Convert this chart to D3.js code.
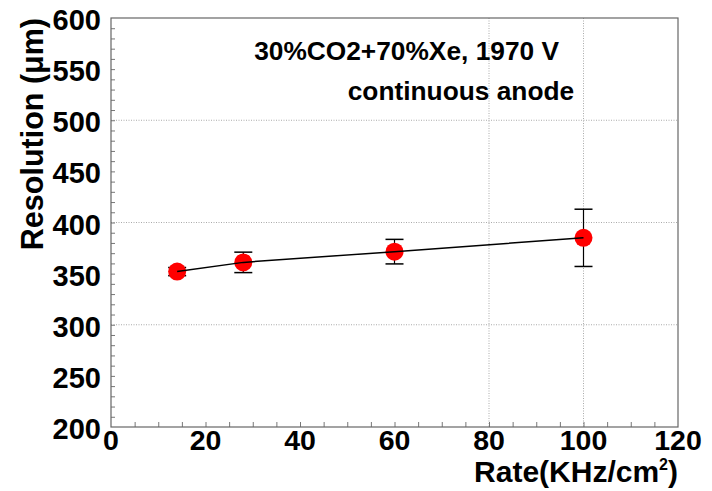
<!DOCTYPE html>
<html>
<head>
<meta charset="utf-8">
<script src="https://cdn.jsdelivr.net/npm/d3@7"></script>
<style>
  body { margin: 0; background: #fff; }
  text { font-family: "Liberation Sans", Arial, Helvetica, sans-serif; font-weight: bold; fill: #000; }
</style>
</head>
<body>
<div id="chart"></div>
<script>
// data
const rates = [14, 28, 60, 100];
const resolution = [352, 361, 371.5, 385];
const errors = [4, 10, 12, 28];
const xTickLabels = [0, 20, 40, 60, 80, 100, 120];
const yTickLabels = [200, 250, 300, 350, 400, 450, 500, 550, 600];
const gridX = [80, 100];
const gridY = [300, 400, 500];
const infoLines = ['30%CO2+70%Xe, 1970 V', 'continuous anode'];

const W = 712, H = 491;
const margin = {top: 18, right: 34, bottom: 64, left: 111};
const width = W - margin.left - margin.right;
const height = H - margin.top - margin.bottom;

const svg = d3.select('#chart').append('svg')
  .attr('width', W)
  .attr('height', H);

svg.append('rect').attr('width', W).attr('height', H).attr('fill', '#fff');

const g = svg.append('g')
  .attr('transform', 'translate(' + margin.left + ',' + margin.top + ')');

const x = d3.scaleLinear().domain([0, 120]).range([0, width]);
const y = d3.scaleLinear().domain([200, 600]).range([height, 0]);

// grid
g.selectAll('.gx').data(gridX).enter().append('line')
  .attr('x1', d => x(d)).attr('x2', d => x(d))
  .attr('y1', 0).attr('y2', height)
  .attr('stroke', '#aaa').attr('stroke-width', 1)
  .attr('stroke-dasharray', '1,1.5');
g.selectAll('.gy').data(gridY).enter().append('line')
  .attr('y1', d => y(d)).attr('y2', d => y(d))
  .attr('x1', 0).attr('x2', width)
  .attr('stroke', '#aaa').attr('stroke-width', 1)
  .attr('stroke-dasharray', '1,1.5');

// ticks pointing inside the frame
g.append('g')
  .attr('transform', 'translate(0,' + height + ')')
  .call(d3.axisTop(x).tickValues(d3.range(5, 120, 5)).tickSize(5).tickFormat(''))
  .call(a => a.select('.domain').remove())
  .selectAll('line').attr('stroke', '#777');
g.append('g')
  .call(d3.axisRight(y).tickValues(d3.range(210, 600, 10)).tickSize(4).tickFormat(''))
  .call(a => a.select('.domain').remove())
  .selectAll('line').attr('stroke', '#777');

// frame
g.append('rect')
  .attr('width', width).attr('height', height)
  .attr('fill', 'none').attr('stroke', '#666').attr('stroke-width', 1.2);

// tick labels
g.selectAll('.xl').data(xTickLabels).enter().append('text')
  .attr('x', d => x(d))
  .attr('y', height + 23)
  .attr('text-anchor', 'middle')
  .attr('font-size', 28.5)
  .text(d => d);
g.selectAll('.yl').data(yTickLabels).enter().append('text')
  .attr('x', -10)
  .attr('y', d => y(d) + 12)
  .attr('text-anchor', 'end')
  .attr('font-size', 29)
  .text(d => d);

// axis titles
const xt = g.append('text')
  .attr('x', width)
  .attr('y', height + 55)
  .attr('text-anchor', 'end')
  .attr('font-size', 30);
xt.append('tspan').text('Rate(KHz/cm');
xt.append('tspan').attr('font-size', 16).attr('dy', -12).text('2');
xt.append('tspan').attr('dy', 12).text(')');

g.append('text')
  .attr('transform', 'translate(' + (-68) + ',0) rotate(-90)')
  .attr('text-anchor', 'end')
  .attr('font-size', 30.5)
  .text('Resolution (\u03bcm)');

// annotation
g.selectAll('.info').data(infoLines).enter().append('text')
  .attr('x', (d, i) => i === 0 ? x(30.3) : x(50.1))
  .attr('y', (d, i) => i === 0 ? 42 : 82)
  .attr('font-size', 26.3)
  .text(d => d);

const pts = rates.map((r, i) => ({x: r, y: resolution[i], e: errors[i]}));

// error bars
const eb = g.selectAll('.err').data(pts).enter().append('g');
eb.append('line')
  .attr('x1', d => x(d.x)).attr('x2', d => x(d.x))
  .attr('y1', d => y(d.y - d.e)).attr('y2', d => y(d.y + d.e))
  .attr('stroke', '#000').attr('stroke-width', 1.2);
eb.selectAll('.cap').data(d => [d.y - d.e, d.y + d.e].map(v => ({x: d.x, v: v})))
  .enter().append('line')
  .attr('x1', d => x(d.x) - 9).attr('x2', d => x(d.x) + 9)
  .attr('y1', d => y(d.v)).attr('y2', d => y(d.v))
  .attr('stroke', '#000').attr('stroke-width', 1.5);

// markers
g.selectAll('.pt').data(pts).enter().append('circle')
  .attr('cx', d => x(d.x))
  .attr('cy', d => y(d.y))
  .attr('r', 9)
  .attr('fill', '#f00');

// connecting line, drawn over the markers as in the original
g.append('path')
  .datum(pts)
  .attr('fill', 'none')
  .attr('stroke', '#000')
  .attr('stroke-width', 1.5)
  .attr('d', d3.line().x(d => x(d.x)).y(d => y(d.y)));
</script>
</body>
</html>
